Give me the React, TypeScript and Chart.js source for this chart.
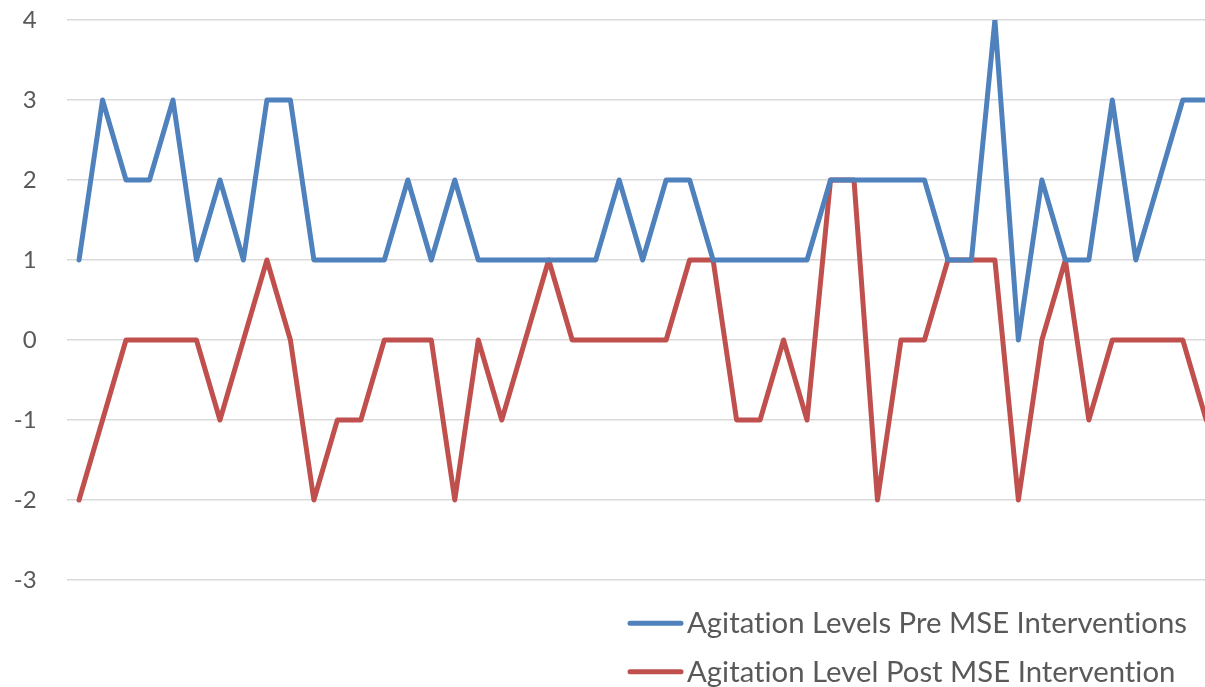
import React, { useEffect, useRef } from "react";
import { Chart, registerables } from "chart.js";

Chart.register(...registerables);

const categories = [
  "1", "2", "3", "4", "5", "6", "7", "8", "9", "10",
  "11", "12", "13", "14", "15", "16", "17", "18", "19", "20",
  "21", "22", "23", "24", "25", "26", "27", "28", "29", "30",
  "31", "32", "33", "34", "35", "36", "37", "38", "39", "40",
  "41", "42", "43", "44", "45", "46", "47", "48", "49",
];

const preMSE = [
  1, 3, 2, 2, 3, 1, 2, 1, 3, 3,
  1, 1, 1, 1, 2, 1, 2, 1, 1, 1,
  1, 1, 1, 2, 1, 2, 2, 1, 1, 1,
  1, 1, 2, 2, 2, 2, 2, 1, 1, 4,
  0, 2, 1, 1, 3, 1, 2, 3, 3,
];

const postMSE = [
  -2, -1, 0, 0, 0, 0, -1, 0, 1, 0,
  -2, -1, -1, 0, 0, 0, -2, 0, -1, 0,
  1, 0, 0, 0, 0, 0, 1, 1, -1, -1,
  0, -1, 2, 2, -2, 0, 0, 1, 1, 1,
  -2, 0, 1, -1, 0, 0, 0, 0, -1,
];

const seriesLabels = [
  "Agitation Levels Pre MSE Interventions",
  "Agitation Level Post MSE Intervention",
];

const yMin = -3;
const yMax = 4;

const BLUE = "#4F81BD";
const RED = "#C0504D";
const TEXT = "#595959";
const FONT = "Lato, 'Open Sans', sans-serif";

const legendPlugin = {
  id: "stackedLegend",
  afterDraw(chart: any) {
    const ctx = chart.ctx as CanvasRenderingContext2D;
    ctx.save();
    ctx.font = `29px ${FONT}`;
    try {
      (ctx as any).letterSpacing = "0.01px";
    } catch (e) {
      /* ignore */
    }
    const w0 = ctx.measureText(chart.data.datasets[0].label).width;
    const sx = 500 / w0;
    chart.data.datasets.forEach((ds: any, i: number) => {
      const yMid = 623.3 + i * 48.4;
      ctx.strokeStyle = ds.borderColor;
      ctx.lineWidth = 5;
      ctx.lineCap = "round";
      ctx.beginPath();
      ctx.moveTo(630, yMid);
      ctx.lineTo(681, yMid);
      ctx.stroke();
      ctx.save();
      ctx.translate(687, yMid + 10);
      ctx.scale(sx, 1);
      ctx.fillStyle = TEXT;
      ctx.textBaseline = "alphabetic";
      ctx.textAlign = "left";
      ctx.fillText(ds.label, 0, 0);
      ctx.restore();
    });
    ctx.restore();
  },
};

export default function App() {
  const canvasRef = useRef<HTMLCanvasElement | null>(null);

  useEffect(() => {
    if (!canvasRef.current) return;
    const chart = new Chart(canvasRef.current, {
      type: "line",
      data: {
        labels: categories,
        datasets: [
          {
            label: seriesLabels[0],
            data: preMSE,
            borderColor: BLUE,
            backgroundColor: BLUE,
            borderWidth: 5,
            pointRadius: 0,
            tension: 0,
            borderJoinStyle: "round",
            borderCapStyle: "round",
            clip: { left: false, top: 0, right: false, bottom: false } as any,
          },
          {
            label: seriesLabels[1],
            data: postMSE,
            borderColor: RED,
            backgroundColor: RED,
            borderWidth: 5,
            pointRadius: 0,
            tension: 0,
            borderJoinStyle: "round",
            borderCapStyle: "round",
            clip: { left: false, top: 0, right: false, bottom: false } as any,
          },
        ],
      },
      options: {
        animation: false,
        responsive: false,
        devicePixelRatio: 1,
        layout: { padding: { left: 0, top: 20, right: 0, bottom: 107 } },
        plugins: {
          legend: { display: false },
          tooltip: { enabled: false },
        },
        scales: {
          x: {
            type: "category",
            display: false,
            offset: true,
          },
          y: {
            min: yMin,
            max: yMax,
            border: { display: false },
            grid: {
              color: "#D9D9D9",
              lineWidth: 1.5,
              drawTicks: true,
              tickLength: 30.6,
              tickColor: "rgba(0,0,0,0)",
            },
            ticks: {
              stepSize: 1,
              padding: 0,
              color: TEXT,
              font: { family: FONT, size: 24 },
            },
            afterFit: (scale: any) => {
              scale.width = 67.3;
            },
          },
        },
      },
      plugins: [legendPlugin],
    });
    return () => chart.destroy();
  }, []);

  return (
    <div
      style={{
        position: "fixed",
        left: 0,
        top: 0,
        width: "1205px",
        height: "687px",
        overflow: "hidden",
        background: "#ffffff",
      }}
    >
      <canvas
        ref={canvasRef}
        width={1218}
        height={687}
        style={{ display: "block", width: "1218px", height: "687px" }}
      />
    </div>
  );
}
